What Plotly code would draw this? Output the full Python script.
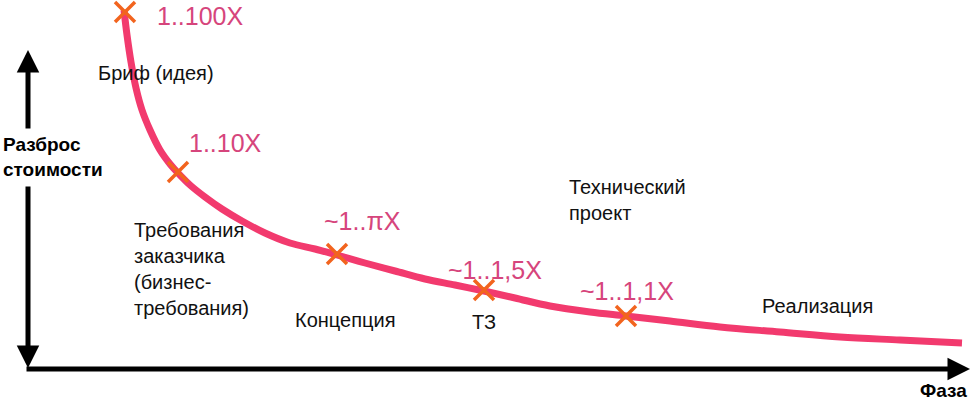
import plotly.graph_objects as go

# curve of cost spread vs project phase (pixel-like units, y measured from the top)
curve_x = [124, 127, 131, 136, 142, 150, 160, 170, 178, 190, 205, 222, 242, 265, 290, 315, 337,
           365, 395, 425, 455, 484, 515, 550, 590, 626, 670, 720, 780, 840, 900, 962]
curve_y = [10, 35, 62, 88, 110, 130, 150, 164, 173, 185, 197, 209, 221, 233, 243, 249, 255,
           263, 271, 279, 285, 291, 298, 306, 312, 316, 321, 327, 332, 337, 340, 343]

# phase checkpoints (crosses) and their spread labels
point_x = [125, 178, 337, 484, 626]
point_y = [12, 172, 254, 290, 316]
spread_labels = ["1..100X", "1..10X", "~1..πX", "~1..1,5X", "~1..1,1X"]
spread_label_x = [155, 187, 322, 446, 578]
spread_label_y = [16, 143, 221, 270, 291]

phase_labels = ["Бриф (идея)", "Требования<br>заказчика<br>(бизнес-<br>требования)",
                "Концепция", "ТЗ", "Технический<br>проект", "Реализация"]
phase_label_x = [96, 132, 293, 470, 567, 760]
phase_label_y = [73, 269, 320, 322, 200, 306]

PINK = "#f23a6e"
PINK_TEXT = "#d6457c"
ORANGE = "#f2641e"
FONT = "Liberation Sans, Arial, sans-serif"

fig = go.Figure()

fig.add_trace(go.Scatter(
    x=curve_x, y=curve_y, mode="lines",
    line=dict(color=PINK, width=7, shape="spline", smoothing=1.0),
    hoverinfo="skip",
))

fig.add_trace(go.Scatter(
    x=point_x, y=point_y, mode="markers",
    marker=dict(symbol="x-thin", size=20, line=dict(color=ORANGE, width=3.5)),
    hoverinfo="skip",
))

# spread labels (pink)
for txt, x, y in zip(spread_labels, spread_label_x, spread_label_y):
    fig.add_annotation(x=x, y=y, text=txt, showarrow=False, xanchor="left", yanchor="middle",
                       font=dict(family=FONT, size=25, color=PINK_TEXT))

# phase labels (black)
for txt, x, y in zip(phase_labels, phase_label_x, phase_label_y):
    fig.add_annotation(x=x, y=y, text=txt, showarrow=False, xanchor="left", yanchor="middle",
                       align="left", font=dict(family=FONT, size=20, color="#111111"))

# axis titles
fig.add_annotation(x=1, y=157, text="<b>Разброс<br>стоимости</b>", showarrow=False,
                   xanchor="left", yanchor="middle", align="left",
                   font=dict(family=FONT, size=19, color="#000000"))
fig.add_annotation(x=918, y=390, text="<b>Фаза</b>", showarrow=False,
                   xanchor="left", yanchor="middle",
                   font=dict(family=FONT, size=19, color="#000000"))

# axis arrows
arrow_style = dict(showarrow=True, arrowhead=2, arrowsize=0.9, arrowwidth=5, arrowcolor="#000000",
                   xref="x", yref="y", axref="x", ayref="y", text="")
fig.add_annotation(x=28, y=50, ax=28, ay=130, **arrow_style)
fig.add_annotation(x=28, y=368, ax=28, ay=185, **arrow_style)
fig.add_annotation(x=970, y=369, ax=25, ay=369, **arrow_style)

fig.update_layout(
    width=974, height=410,
    margin=dict(l=0, r=0, t=0, b=0),
    plot_bgcolor="white", paper_bgcolor="white",
    showlegend=False,
    xaxis=dict(range=[0, 974], visible=False, fixedrange=True),
    yaxis=dict(range=[410, 0], visible=False, fixedrange=True),
)

# drop the default body margin so the figure fills the window
fig.write_html("out.html", config={"displayModeBar": False},
               post_script="document.body.style.margin = '0';")
